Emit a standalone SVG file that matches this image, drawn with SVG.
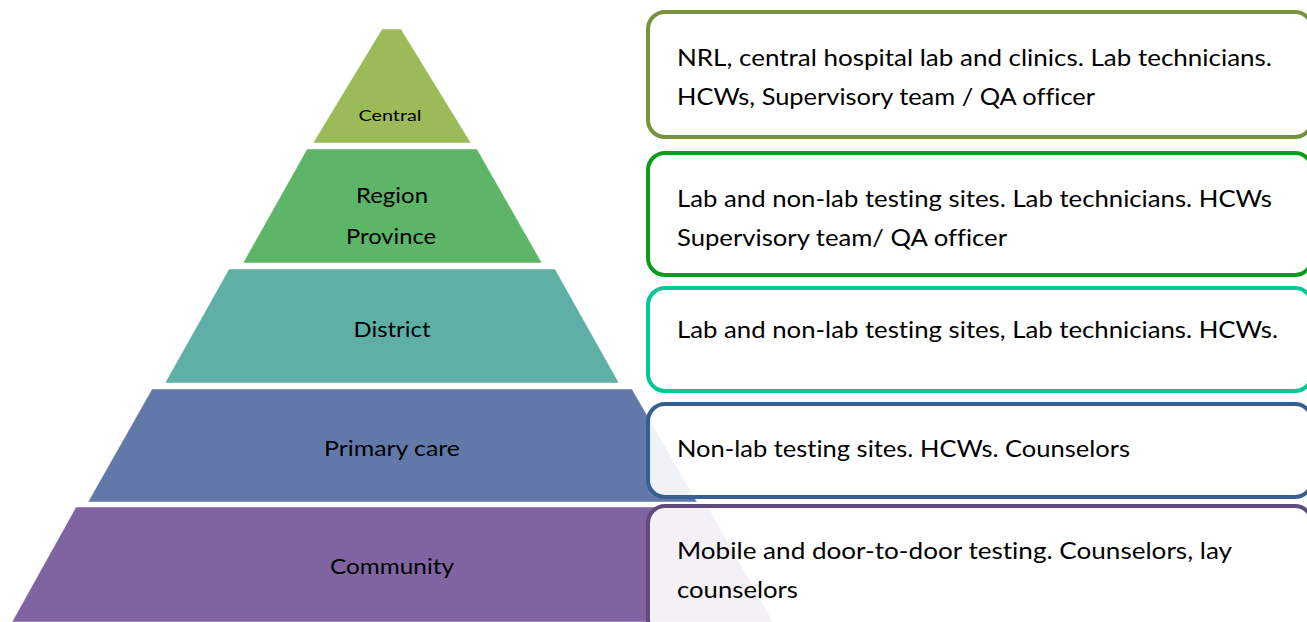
<svg xmlns="http://www.w3.org/2000/svg" width="1307" height="622" viewBox="0 0 1307 622">
  <style>
    text { font-variant-ligatures: none; font-feature-settings: "liga" 0, "dlig" 0; }
    .tier { stroke: #ffffff; stroke-width: 0.8; stroke-opacity: 0.6; }
    .lvl { font-family: Lato, "Open Sans", "Liberation Sans", sans-serif; font-size: 22px; fill: #000000; text-anchor: middle; }
    .lvl-s { font-size: 16px; }
    .card { fill: #ffffff; fill-opacity: 0.9; stroke-width: 4; }
    .desc { font-family: Lato, "Open Sans", "Liberation Sans", sans-serif; font-size: 23px; fill: #000000; }
  </style>

  <rect width="1307" height="622" fill="#ffffff"/>

  <!-- pyramid tiers -->
  <g id="tier-central">
    <polygon class="tier" points="382,29 401,29 471,143 313,143" fill="#9bbb59"/>
    <text class="lvl lvl-s" x="390" y="121" textLength="63" lengthAdjust="spacingAndGlyphs">Central</text>
  </g>
  <g id="tier-region">
    <polygon class="tier" points="307,149 477,149 542,263 243,263" fill="#5db567"/>
    <text class="lvl" x="392" y="203" textLength="72" lengthAdjust="spacingAndGlyphs">Region</text>
    <text class="lvl" x="391" y="244" textLength="90" lengthAdjust="spacingAndGlyphs">Province</text>
  </g>
  <g id="tier-district">
    <polygon class="tier" points="229,269 555,269 619,383 165,383" fill="#5eafa6"/>
    <text class="lvl" x="392" y="337" textLength="77" lengthAdjust="spacingAndGlyphs">District</text>
  </g>
  <g id="tier-primary">
    <polygon class="tier" points="152,389 632,389 697,502 88,502" fill="#6178a8"/>
    <text class="lvl" x="392" y="456" textLength="136" lengthAdjust="spacingAndGlyphs">Primary care</text>
  </g>
  <g id="tier-community">
    <polygon class="tier" points="76,507 708,507 773,622 12,622" fill="#8064a2"/>
    <text class="lvl" x="392" y="574" textLength="124" lengthAdjust="spacingAndGlyphs">Community</text>
  </g>

  <!-- description cards -->
  <g id="card-central">
    <rect class="card" x="648" y="12" width="664" height="125" rx="17" stroke="#77933c"/>
    <text class="desc" x="677" y="66" textLength="595" lengthAdjust="spacingAndGlyphs">NRL, central hospital lab and clinics. Lab technicians.</text>
    <text class="desc" x="677" y="105" textLength="418" lengthAdjust="spacingAndGlyphs">HCWs, Supervisory team / QA officer</text>
  </g>
  <g id="card-region">
    <rect class="card" x="648" y="153" width="664" height="122" rx="17" stroke="#0a9d1c"/>
    <text class="desc" x="677" y="207" textLength="595" lengthAdjust="spacingAndGlyphs">Lab and non-lab testing sites. Lab technicians. HCWs</text>
    <text class="desc" x="677" y="246" textLength="330" lengthAdjust="spacingAndGlyphs">Supervisory team/ QA officer</text>
  </g>
  <g id="card-district">
    <rect class="card" x="648" y="288" width="664" height="103" rx="17" stroke="#00c896"/>
    <text class="desc" x="677" y="338" textLength="601" lengthAdjust="spacingAndGlyphs">Lab and non-lab testing sites, Lab technicians. HCWs.</text>
  </g>
  <g id="card-primary">
    <rect class="card" x="648" y="404" width="664" height="93" rx="17" stroke="#376092"/>
    <text class="desc" x="677" y="457" textLength="453" lengthAdjust="spacingAndGlyphs">Non-lab testing sites. HCWs. Counselors</text>
  </g>
  <g id="card-community">
    <rect class="card" x="648" y="506" width="664" height="130" rx="17" stroke="#604b7b"/>
    <text class="desc" x="677" y="559" textLength="555" lengthAdjust="spacingAndGlyphs">Mobile and door-to-door testing. Counselors, lay</text>
    <text class="desc" x="677" y="598" textLength="121" lengthAdjust="spacingAndGlyphs">counselors</text>
  </g>
</svg>
